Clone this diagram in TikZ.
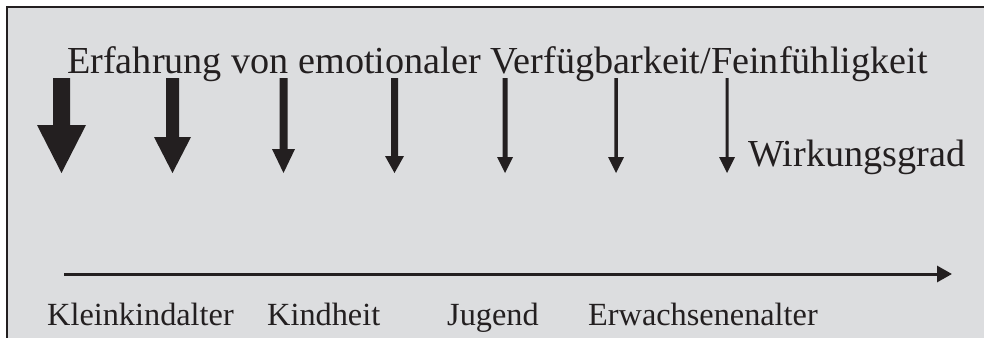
\documentclass[tikz,border=0pt]{standalone}
\usepackage{fontspec}
\setmainfont{Liberation Serif}
\usetikzlibrary{arrows.meta}
\definecolor{ink}{HTML}{231F20}
\definecolor{panel}{HTML}{DCDDDF}
\tikzset{
  lbl/.style={anchor=base west, inner sep=0pt, text=ink, font=\fontsize{32.3}{36}\selectfont},
  big/.style={anchor=base west, inner sep=0pt, text=ink, font=\fontsize{38.2}{42}\selectfont},
  axis/.style={draw=ink, line width=3pt, -{Triangle[length=15pt,width=16pt]}}
}
\begin{document}
\begin{tikzpicture}[x=1pt,y=-1pt]
\clip (0,0) rectangle (984,337);
\useasboundingbox (0,0) rectangle (984,337);
\fill[white] (0,0) rectangle (984,337);
\draw[ink, line width=2pt, fill=panel] (7,7) rectangle (1000,360);
\node[big] (title) at (67,73) {Erfahrung von emotionaler Verfügbarkeit/Feinfühligkeit};
\foreach \x/\s/\h/\t in {61.5/17/49/125, 172.5/13/37/137, 283.5/8/23/149, 394.5/7/19/156, 505/5/16/157, 616/3.5/16/157, 727/3/16/157} {
  \fill[ink] (\x-\s/2,78) -- (\x+\s/2,78) -- (\x+\s/2,\t) -- (\x+\h/2,\t) -- (\x,173) -- (\x-\h/2,\t) -- (\x-\s/2,\t) -- cycle;
}
\node[big] (wg) at (748,166) {Wirkungsgrad};
\coordinate (a0) at (64,274);
\coordinate (a1) at (952,274);
\draw[axis] (a0) -- (a1);
\node[lbl] (k1) at (47,325) {Kleinkindalter};
\node[lbl] (k2) at (267,325) {Kindheit};
\node[lbl] (k3) at (447,325) {Jugend};
\node[lbl] (k4) at (588,325) {Erwachsenenalter};
\end{tikzpicture}
\end{document}
